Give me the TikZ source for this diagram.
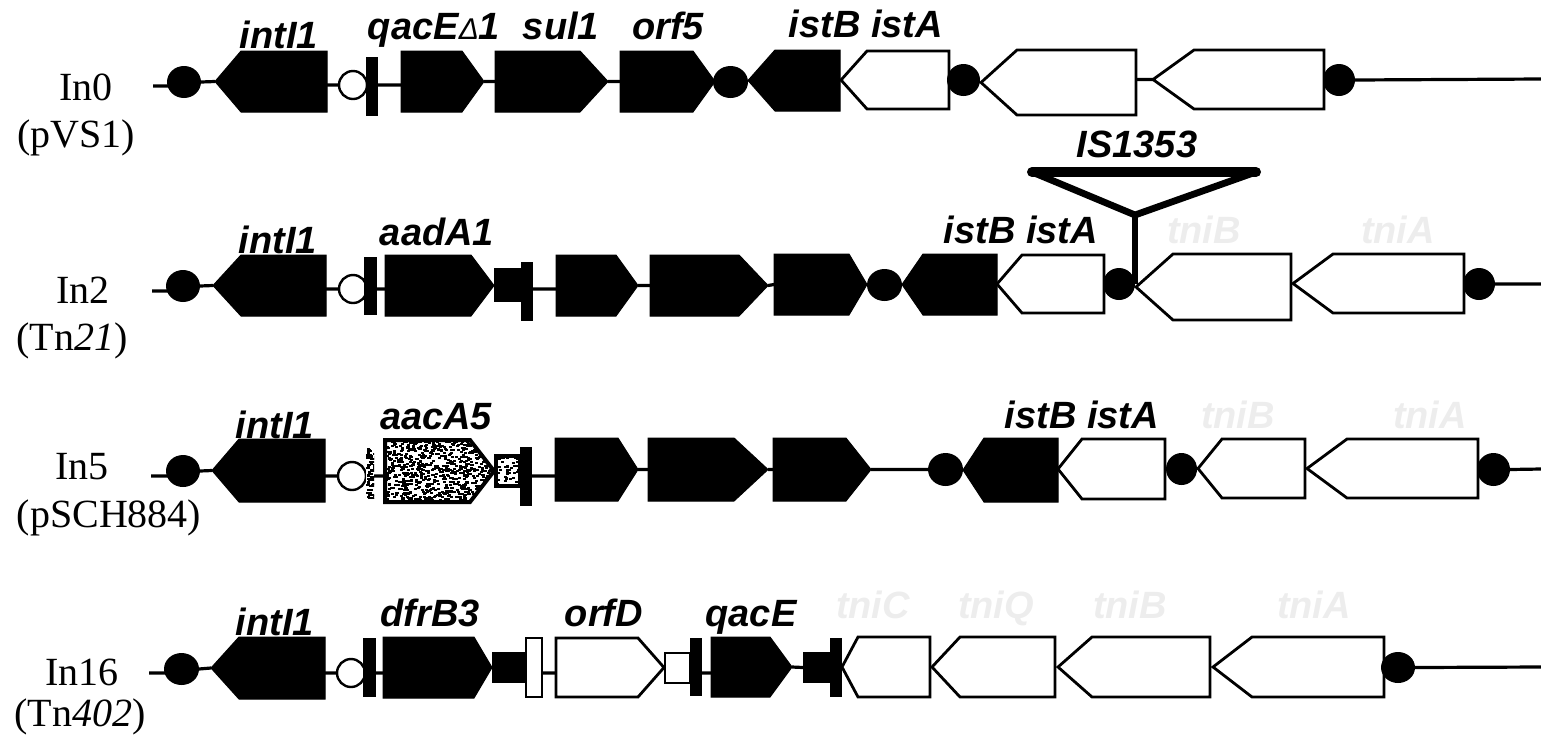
\documentclass[tikz,border=0pt]{standalone}
\usepackage{fontspec}
\setmainfont{Liberation Serif}
\newfontfamily\genefont{Liberation Sans}
\usetikzlibrary{shapes.symbols,shapes.geometric,calc}

% gene arrows: direction, style, flat end, tip, shoulder, top, bottom, name
\newcommand{\geneto}[8]{%
    \pgfmathsetmacro{\ptangle}{2*atan(abs(#7-#6)/2/abs(#4-#5))}
    \node[gene,#2,to#1,signal pointer angle=\ptangle,
        minimum width={abs(#4-#3)*0.5pt},minimum height={abs(#7-#6)*0.5pt}]
        (#8) at ({#3},{(#6+#7)/2}) {};
}
\newcommand{\blob}[5]{% name, left, right, top, bottom
    \node[dot,minimum width={(#3-#2)*0.5pt},minimum height={(#5-#4)*0.5pt}]
        (#1) at ({(#2+#3)/2},{(#4+#5)/2}) {};
}
\newcommand{\block}[6]{% style, name, left, right, top, bottom
    \node[box,#1,minimum width={(#4-#3)*0.5pt},minimum height={(#6-#5)*0.5pt}]
        (#2) at ({(#3+#4)/2},{(#5+#6)/2}) {};
}

\begin{document}
\begin{tikzpicture}[
    x=0.5pt,
    y=-0.5pt,
    gene/.style={
        signal,
        signal from=nowhere,
        outer sep=0pt,
        inner sep=0pt,
        line join=miter
    },
    toeast/.style={signal to=east,anchor=west},
    towest/.style={signal to=west,anchor=east},
    dark/.style={
        draw,
        fill=black,
        line width=0.5pt
    },
    hollow/.style={
        draw,
        fill=white,
        line width=1.4pt
    },
    dot/.style={
        ellipse,
        fill=black,
        inner sep=0pt,
        outer sep=0pt
    },
    box/.style={
        rectangle,
        inner sep=0pt,
        outer sep=0pt
    },
    speckle/.style 2 args={
        fill=white,
        path picture={
            \foreach \i in {1,...,#1}
                \fill[black] (path picture bounding box.north west)
                    ++({rnd*#2},{rnd*66}) rectangle ++(3,2);
        }
    },
    ringed/.style={
        circle,
        draw,
        fill=white,
        line width=1.2pt,
        inner sep=0pt,
        outer sep=0pt,
        minimum size=14pt
    },
    dna/.style={
        draw,
        line width=1.6pt
    },
    insert/.style={
        draw,
        line width=3.4pt
    },
    genelabel/.style={
        font=\genefont\bfseries\itshape\fontsize{19}{19}\selectfont,
        anchor=base,
        inner sep=0pt
    },
    ghost/.style={
        genelabel,
        text=black!7
    },
    title/.style={
        font=\fontsize{20}{20}\selectfont,
        anchor=base,
        inner sep=0pt
    }
]
    \useasboundingbox (0,0) rectangle (1541,735);
    \pgfmathsetseed{7}

    % In0
    \node[title] (n0) at (86,100) {In0};
    \node[title] (p0) at (76,147) {(pVS1)};
    \coordinate (s0) at (153,86);
    \blob{d0a}{167}{201}{66}{98}
    \geneto{west}{dark}{327}{215}{241}{51}{112}{g0a}
    \node[ringed] (r0) at (353,85) {};
    \block{fill=black}{b0a}{366}{378}{57}{116}
    \geneto{east}{dark}{401}{484}{462}{51}{112}{g0b}
    \geneto{east}{dark}{495}{608}{580}{51}{112}{g0c}
    \geneto{east}{dark}{620}{715}{693}{51}{112}{g0d}
    \blob{d0b}{713}{748}{66}{98}
    \geneto{west}{dark}{840}{748}{775}{50}{111}{g0e}
    \geneto{west}{hollow}{949}{841}{867}{51}{109}{g0f}
    \blob{d0c}{947}{980}{64}{96}
    \geneto{west}{hollow}{1136}{981}{1017}{50}{115}{g0g}
    \geneto{west}{hollow}{1324}{1153}{1194}{50}{109}{g0h}
    \blob{d0d}{1323}{1355}{64}{96}
    \coordinate (e0) at (1541,79);
    \draw[dna] (s0) -- (s0 -| d0a) (d0a.east) -- (g0a.west)
        (r0.west -| g0a.east) -- (r0.west) (r0 -| b0a.east) -- (r0 -| g0b.west)
        (g0b.east) -- (g0c.west) (g0c.east) -- (g0d.west)
        (g0h.west -| g0g.east) -- (g0h.west) (d0d.east) -- (e0);
    \node[genelabel] (l0a) at (279,48) {intI1};
    \node[genelabel] (l0b) at (434,39) {qacE{\fontsize{15}{15}\selectfont\mdseries Δ}1};
    \node[genelabel] (l0c) at (561,39) {sul1};
    \node[genelabel] (l0d) at (668,39) {orf5};
    \node[genelabel] (l0e) at (866,37) {istB istA};

    % In2
    \node[title] (n2) at (83,303) {In2};
    \node[title] (p2) at (72,350) {(Tn\textit{21})};
    \coordinate (s2) at (152,291);
    \blob{d2a}{166}{200}{270}{302}
    \geneto{west}{dark}{326}{213}{241}{255}{316}{g2a}
    \node[ringed] (r2) at (353,289) {};
    \block{fill=black}{b2a}{364}{377}{257}{315}
    \geneto{east}{dark}{385}{494}{471}{255}{316}{g2b}
    \block{fill=black}{b2b}{494}{522}{268}{302}
    \block{fill=black}{b2c}{521}{533}{262}{321}
    \geneto{east}{dark}{556}{638}{616}{255}{316}{g2c}
    \geneto{east}{dark}{650}{768}{739}{255}{316}{g2d}
    \geneto{east}{dark}{774}{867}{849}{254}{315}{g2e}
    \blob{d2b}{867}{902}{269}{301}
    \geneto{west}{dark}{997}{902}{923}{254}{315}{g2f}
    \geneto{west}{hollow}{1104}{997}{1022}{255}{313}{g2g}
    \blob{d2c}{1103}{1135}{268}{300}
    \geneto{west}{hollow}{1291}{1136}{1173}{254}{320}{g2h}
    \geneto{west}{hollow}{1464}{1293}{1333}{254}{313}{g2i}
    \blob{d2d}{1463}{1495}{268}{300}
    \coordinate (e2) at (1541,284);
    \draw[dna] (s2) -- (s2 -| d2a) (d2a.east) -- (g2a.west)
        (r2.west -| g2a.east) -- (r2.west) (r2 -| b2a.east) -- (r2 -| g2b.west)
        (r2 -| b2c.east) -- (r2 -| g2c.west) (g2c.east) -- (g2d.west)
        (g2d.east) -- (g2e.west) (d2d.east) -- (e2);
    \node[genelabel] (l2a) at (278,253) {intI1};
    \node[genelabel] (l2b) at (437,245) {aadA1};
    \node[genelabel] (l2c) at (1021,243) {istB istA};
    \node[ghost] (l2d) at (1204,243) {tniB};
    \node[ghost] (l2e) at (1398,243) {tniA};

    % IS1353 insertion
    \node[genelabel] (is) at (1137,157) {IS1353};
    \coordinate (isl) at (1032,172);
    \coordinate (isr) at (1256,172);
    \coordinate (isa) at (1135,215);
    \draw[insert,line width=5pt,line cap=round] (isl) -- (isr);
    \draw[insert,line join=miter] (isl) -- (isa) -- (isr);
    \draw[insert] (isa) -- (isa |- d2c);

    % In5
    \node[title] (n5) at (82,479) {In5};
    \node[title] (p5) at (109,527) {(pSCH884)};
    \coordinate (s5) at (151,476);
    \blob{d5a}{166}{200}{455}{487}
    \geneto{west}{dark}{325}{212}{239}{439}{502}{g5a}
    \node[ringed] (r5) at (352,476) {};
    \block{speckle={110}{8}}{b5a}{366}{374}{447}{498}
    \geneto{east}{draw,line width=2pt,speckle={850}{110}}{385}{494}{470}{440}{502}{g5b}
    \block{draw,line width=2pt,speckle={110}{26}}{b5b}{496}{520}{456}{486}
    \block{fill=black}{b5c}{520}{532}{447}{506}
    \geneto{east}{dark}{555}{638}{618}{438}{501}{g5c}
    \geneto{east}{dark}{648}{768}{734}{438}{501}{g5d}
    \geneto{east}{dark}{773}{871}{846}{438}{501}{g5e}
    \blob{d5b}{928}{963}{453}{486}
    \geneto{west}{dark}{1058}{963}{984}{438}{502}{g5f}
    \geneto{west}{hollow}{1165}{1058}{1082}{439}{499}{g5g}
    \blob{d5c}{1166}{1197}{453}{485}
    \geneto{west}{hollow}{1305}{1198}{1222}{439}{498}{g5h}
    \geneto{west}{hollow}{1478}{1307}{1347}{439}{498}{g5i}
    \blob{d5d}{1477}{1510}{453}{486}
    \coordinate (e5) at (1541,469);
    \draw[dna] (s5) -- (s5 -| d5a) (d5a.east) -- (g5a.west)
        (r5.west -| g5a.east) -- (r5.west) (r5 -| b5a.east) -- (r5 -| g5b.west)
        (r5 -| b5c.east) -- (r5 -| g5c.west) (g5c.east) -- (g5d.west)
        (g5d.east) -- (g5e.west) (g5e.east) -- (d5b.west) (d5d.east) -- (e5);
    \node[genelabel] (l5a) at (275,438) {intI1};
    \node[genelabel] (l5b) at (436,429) {aacA5};
    \node[genelabel] (l5c) at (1082,428) {istB istA};
    \node[ghost] (l5d) at (1238,428) {tniB};
    \node[ghost] (l5e) at (1430,428) {tniA};

    % In16
    \node[title] (n16) at (82,685) {In16};
    \node[title] (p16) at (80,726) {(Tn\textit{402})};
    \coordinate (s16) at (149,673);
    \blob{d16a}{164}{199}{653}{685}
    \geneto{west}{dark}{325}{211}{239}{637}{699}{g16a}
    \node[ringed] (r16) at (351,673) {};
    \block{fill=black}{b16a}{363}{376}{638}{697}
    \geneto{east}{dark}{383}{492}{474}{637}{698}{g16b}
    \block{fill=black}{b16b}{492}{526}{652}{683}
    \block{draw,fill=white,line width=1.4pt}{b16c}{526}{542}{638}{697}
    \geneto{east}{hollow}{556}{664}{638}{638}{697}{g16c}
    \block{draw,fill=white,line width=1.4pt}{b16d}{665}{690}{653}{683}
    \block{fill=black}{b16e}{690}{702}{638}{696}
    \geneto{east}{dark}{711}{792}{770}{637}{697}{g16d}
    \block{fill=black}{b16f}{803}{831}{652}{683}
    \block{fill=black}{b16g}{830}{842}{638}{697}
    \geneto{west}{hollow}{930}{842}{858}{637}{697}{g16e}
    \geneto{west}{hollow}{1055}{932}{960}{637}{697}{g16f}
    \geneto{west}{hollow}{1210}{1058}{1092}{637}{697}{g16g}
    \geneto{west}{hollow}{1384}{1213}{1252}{637}{697}{g16h}
    \blob{d16b}{1381}{1415}{652}{683}
    \coordinate (e16) at (1541,667);
    \draw[dna] (s16) -- (s16 -| d16a) (d16a.east) -- (g16a.west)
        (r16.west -| g16a.east) -- (r16.west) (r16 -| b16a.east) -- (r16 -| g16b.west)
        (r16 -| b16c.east) -- (r16 -| g16c.west) (r16 -| b16e.east) -- (r16 -| g16d.west)
        (g16d.east) -- (b16f.west) (d16b.east) -- (e16);
    \node[genelabel] (l16a) at (275,635) {intI1};
    \node[genelabel] (l16b) at (430,626) {dfrB3};
    \node[genelabel] (l16c) at (604,626) {orfD};
    \node[genelabel] (l16d) at (751,626) {qacE};
    \node[ghost] (l16e) at (873,618) {tniC};
    \node[ghost] (l16f) at (996,618) {tniQ};
    \node[ghost] (l16g) at (1130,618) {tniB};
    \node[ghost] (l16h) at (1314,618) {tniA};
\end{tikzpicture}
\end{document}
